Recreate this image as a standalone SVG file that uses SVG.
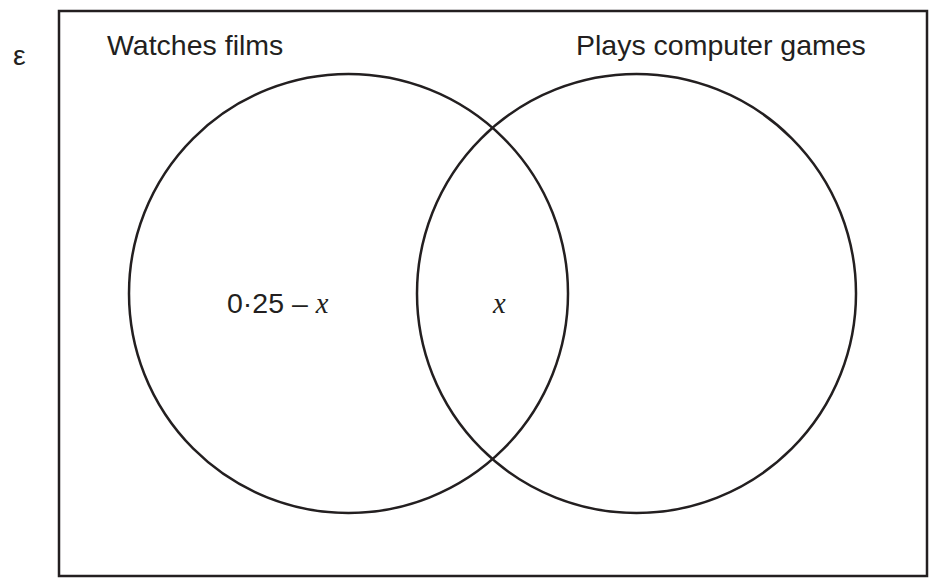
<svg xmlns="http://www.w3.org/2000/svg" width="929" height="585" viewBox="0 0 929 585">
<style>
.ln{fill:none;stroke:#231f20;stroke-width:2.5}
.t{font-family:"Liberation Sans",Arial,sans-serif;font-size:28.5px;fill:#231f20}
.v{font-family:"Liberation Serif","Times New Roman",serif;font-style:italic}
</style>
<rect width="929" height="585" fill="#fff"/>
<g id="universe">
<rect class="ln" x="59" y="11" width="868" height="565"/>
<text class="t" x="13" y="65">ε</text>
</g>
<g id="films">
<circle class="ln" cx="348.5" cy="293.5" r="219.5"/>
<text class="t" x="107" y="55">Watches films</text>
<text class="t" x="227" y="313">0·25 – <tspan class="v">x</tspan></text>
</g>
<g id="games">
<circle class="ln" cx="636.5" cy="293.5" r="219.5"/>
<text class="t" x="576" y="55">Plays computer games</text>
</g>
<g id="intersection">
<text class="t v" x="493" y="313">x</text>
</g>
<g id="connectors"/>
</svg>
